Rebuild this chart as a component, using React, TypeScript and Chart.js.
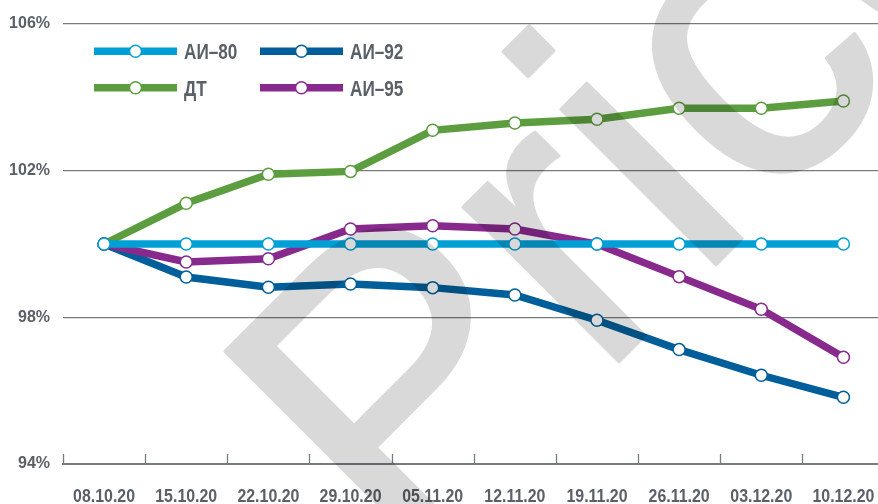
import React, { useEffect, useRef } from "react";
import { Chart, registerables } from "chart.js";

Chart.register(...registerables);

const labels = ["08.10.20", "15.10.20", "22.10.20", "29.10.20", "05.11.20", "12.11.20", "19.11.20", "26.11.20", "03.12.20", "10.12.20"];
const ai80 = [100, 100, 100, 100, 100, 100, 100, 100, 100, 100];
const ai92 = [100, 99.1, 98.82, 98.91, 98.81, 98.61, 97.92, 97.12, 96.42, 95.82];
const dt = [100, 101.11, 101.9, 101.98, 103.1, 103.3, 103.4, 103.7, 103.7, 103.9];
const ai95 = [100, 99.51, 99.6, 100.41, 100.5, 100.41, 100.0, 99.11, 98.22, 96.91];
const yTicks = [94, 98, 102, 106];

const C80 = "#00a0d6";
const C92 = "#005f9a";
const CDT = "#5c9e3f";
const C95 = "#882a8d";
const GRAY = "#767b80";
const TEXT = "#5a6067";
const SANS = '"Liberation Sans", Arial, sans-serif';
const CANVAS_W = 892;
const CANVAS_H = 504;

const legendItems = [
  { label: "АИ–80", color: C80, col: 0, row: 0 },
  { label: "АИ–92", color: C92, col: 1, row: 0 },
  { label: "ДТ", color: CDT, col: 0, row: 1 },
  { label: "АИ–95", color: C95, col: 1, row: 1 },
];

const ticksUpPlugin = {
  id: "ticksUp",
  afterDatasetsDraw(chart: any) {
    const { ctx, chartArea } = chart;
    const x = chart.scales.x;
    ctx.save();
    ctx.strokeStyle = GRAY;
    ctx.lineWidth = 1.3;
    for (let i = 0; i < labels.length; i++) {
      const bx = i === 0 ? chartArea.left : (x.getPixelForValue(i - 1) + x.getPixelForValue(i)) / 2;
      ctx.beginPath();
      ctx.moveTo(Math.round(bx) + 0.5, chartArea.bottom);
      ctx.lineTo(Math.round(bx) + 0.5, chartArea.bottom - 10);
      ctx.stroke();
    }
    ctx.fillStyle = TEXT;
    ctx.font = `bold 18.5px ${SANS}`;
    ctx.textAlign = "center";
    ctx.textBaseline = "alphabetic";
    labels.forEach((lab, i) => {
      ctx.save();
      ctx.translate(x.getPixelForValue(i), chartArea.bottom + 37.7);
      ctx.scale(0.86, 1);
      ctx.fillText(lab, 0, 0);
      ctx.restore();
    });
    ctx.restore();
  },
};

const legendPlugin = {
  id: "customLegend",
  afterDatasetsDraw(chart: any) {
    const { ctx, chartArea } = chart;
    ctx.save();
    for (const it of legendItems) {
      const x0 = chartArea.left + 31 + it.col * 166;
      const x1 = x0 + 83;
      const y = chartArea.top + 27.3 + it.row * 36.4;
      ctx.strokeStyle = it.color;
      ctx.lineWidth = 7.5;
      ctx.beginPath();
      ctx.moveTo(x0, y);
      ctx.lineTo(x1, y);
      ctx.stroke();
      ctx.beginPath();
      ctx.arc((x0 + x1) / 2, y, 6, 0, Math.PI * 2);
      ctx.fillStyle = "#fff";
      ctx.fill();
      ctx.lineWidth = 1.5;
      ctx.stroke();
      ctx.fillStyle = TEXT;
      ctx.font = `bold 22px ${SANS}`;
      ctx.textBaseline = "alphabetic";
      ctx.textAlign = "left";
      ctx.save();
      ctx.translate(x1 + 7, y + 7.8);
      ctx.scale(0.78, 1);
      ctx.fillText(it.label, 0, 0);
      ctx.restore();
    }
    ctx.restore();
  },
};

const watermarkPlugin = {
  id: "watermark",
  afterDraw(chart: any) {
    const { ctx } = chart;
    const off = document.createElement("canvas");
    off.width = CANVAS_W;
    off.height = CANVAS_H;
    const o = off.getContext("2d");
    if (!o) return;
    o.translate(403, 577.5);
    o.rotate(-Math.PI / 4);
    o.font = `415px ${SANS}`;
    o.fillStyle = "#000";
    o.strokeStyle = "#000";
    o.lineWidth = 3.5;
    o.lineJoin = "round";
    o.textBaseline = "alphabetic";
    o.fillText("Price", 0, 0);
    o.strokeText("Price", 0, 0);
    ctx.save();
    ctx.setTransform(1, 0, 0, 1, 0, 0);
    ctx.globalAlpha = 0.15;
    ctx.drawImage(off, 0, 0);
    ctx.restore();
  },
};

export default function App() {
  const ref = useRef<HTMLCanvasElement | null>(null);
  useEffect(() => {
    if (!ref.current) return;
    const mk = (label: string, data: number[], color: string) => ({
      label,
      data,
      borderColor: color,
      backgroundColor: color,
      borderWidth: 7.5,
      pointRadius: 6,
      pointBorderWidth: 1.5,
      pointBackgroundColor: "#fff",
      pointBorderColor: color,
      tension: 0,
      fill: false,
    });
    const chart = new Chart(ref.current, {
      type: "line",
      data: {
        labels,
        datasets: [
          mk("АИ-80", ai80, C80),
          mk("АИ-95", ai95, C95),
          mk("АИ-92", ai92, C92),
          mk("ДТ", dt, CDT),
        ],
      },
      options: {
        responsive: false,
        animation: false,
        devicePixelRatio: 1,
        layout: { padding: { top: 24, left: 0, right: 0, bottom: 0 } },
        plugins: { legend: { display: false }, tooltip: { enabled: false } },
        scales: {
          x: {
            type: "category",
            offset: true,
            grid: { display: false, drawTicks: false },
            border: { display: true, color: GRAY, width: 2 },
            ticks: { display: false },
            afterFit: (s: any) => {
              s.height = 40;
            },
          },
          y: {
            type: "linear",
            min: yTicks[0],
            max: yTicks[yTicks.length - 1],
            afterBuildTicks: (s: any) => {
              s.ticks = yTicks.map((v) => ({ value: v }));
            },
            grid: { color: GRAY, lineWidth: 1.3, drawTicks: false },
            border: { display: false },
            ticks: {
              color: TEXT,
              font: { family: SANS, size: 16, weight: "bold" },
              padding: 13,
              callback: (v: any) => `${v}%`,
            },
            afterFit: (s: any) => {
              s.width = 63;
            },
          },
        },
      },
      plugins: [ticksUpPlugin, legendPlugin, watermarkPlugin],
    });
    return () => chart.destroy();
  }, []);
  return (
    <div style={{ position: "absolute", left: 0, top: 0, width: 878, height: 504, overflow: "hidden", background: "#fff" }}>
      <div style={{ position: "relative", width: CANVAS_W, height: CANVAS_H }}>
        <canvas ref={ref} width={CANVAS_W} height={CANVAS_H} style={{ width: CANVAS_W, height: CANVAS_H, display: "block" }} />
      </div>
    </div>
  );
}
